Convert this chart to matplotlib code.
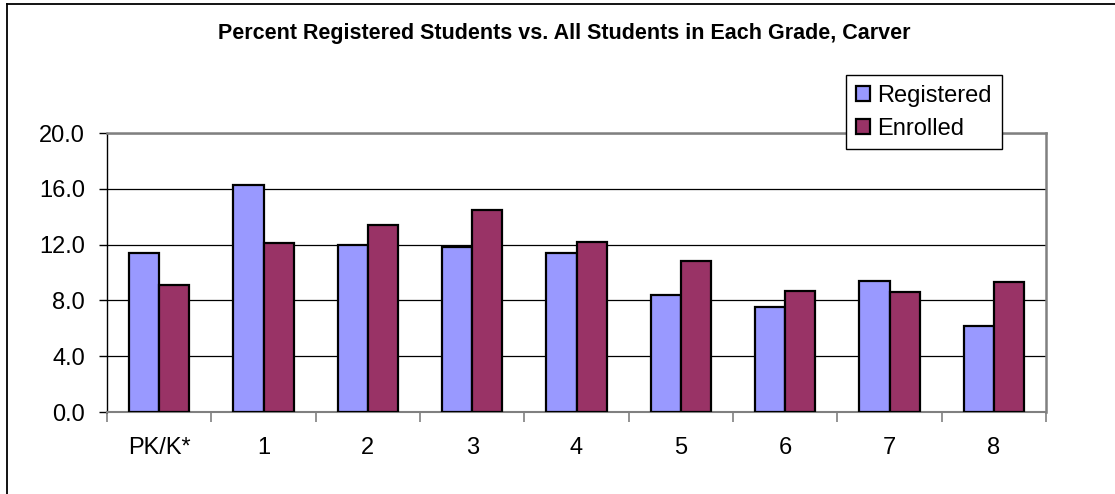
import matplotlib
matplotlib.use("Agg")
import matplotlib.pyplot as plt
from matplotlib.lines import Line2D
from matplotlib.patches import Patch
import numpy as np

categories = ["PK/K*", "1", "2", "3", "4", "5", "6", "7", "8"]
registered = [11.4, 16.3, 12.0, 11.8, 11.4, 8.4, 7.5, 9.4, 6.2]
enrolled = [9.1, 12.1, 13.4, 14.5, 12.2, 10.8, 8.7, 8.6, 9.3]
yticks = [0.0, 4.0, 8.0, 12.0, 16.0, 20.0]
title = "Percent Registered Students vs. All Students in Each Grade, Carver"

plt.rcParams['font.family'] = ['Liberation Sans', 'DejaVu Sans']

W, H = 1115, 494
fig = plt.figure(figsize=(W / 100, H / 100), dpi=100)
ax = fig.add_axes([107 / W, 1 - 412 / H, (1046 - 107) / W, (412 - 133) / H])

x = np.arange(len(categories)) + 0.5
bw = 0.29
c_reg = "#9999FF"
c_enr = "#993366"
ax.bar(x - bw / 2, registered, bw, color=c_reg, edgecolor="black", linewidth=1.6, zorder=3)
ax.bar(x + bw / 2, enrolled, bw, color=c_enr, edgecolor="black", linewidth=1.6, zorder=3)

FS = 17
ax.set_xlim(0, len(categories))
ax.set_ylim(0, 20)
ax.set_yticks(yticks)
ax.set_yticklabels([f"{v:.1f}" for v in yticks], fontsize=FS)
ax.yaxis.grid(True, color="black", linewidth=0.9, zorder=1)
ax.set_axisbelow(True)

ax.set_xticks(np.arange(len(categories) + 1))
ax.set_xticklabels([])
ax.set_xticks(x, minor=True)
ax.set_xticklabels(categories, minor=True, fontsize=FS)
ax.tick_params(axis="x", which="minor", length=0, pad=18)
ax.tick_params(axis="x", which="major", length=7, color="#808080", width=1.2, direction="out")
ax.tick_params(axis="y", length=6, width=1.0, color="black", direction="out", pad=10)

for s in ["top", "right"]:
    ax.spines[s].set_color("#808080")
    ax.spines[s].set_linewidth(1.8)
ax.spines["bottom"].set_color("#808080")
ax.spines["bottom"].set_linewidth(1.5)
ax.spines["left"].set_color("black")
ax.spines["left"].set_linewidth(1.0)

fig.text(564.5 / W, 1 - 33 / H, title, fontsize=15.5, fontweight="bold", ha="center", va="center")

handles = [Patch(facecolor=c_reg, edgecolor="black", linewidth=1.6),
           Patch(facecolor=c_enr, edgecolor="black", linewidth=1.6)]
leg = fig.legend(handles, ["Registered", "Enrolled"], loc="upper left",
                 bbox_to_anchor=(846 / W, 1 - 75 / H), fontsize=FS, frameon=True,
                 fancybox=False, edgecolor="black", framealpha=1,
                 handlelength=0.6, handleheight=0.6, handletextpad=0.3,
                 labelspacing=0.45, borderpad=0.42, borderaxespad=0)
leg.get_frame().set_linewidth(1.0)
leg.set_zorder(10)

fig.add_artist(Line2D([7 / W, 7 / W], [0, 1 - 4 / H], color="black", linewidth=1.3, transform=fig.transFigure))
fig.add_artist(Line2D([7 / W, 1], [1 - 4 / H, 1 - 4 / H], color="black", linewidth=1.3, transform=fig.transFigure))

fig.savefig("out.png", dpi=100)
